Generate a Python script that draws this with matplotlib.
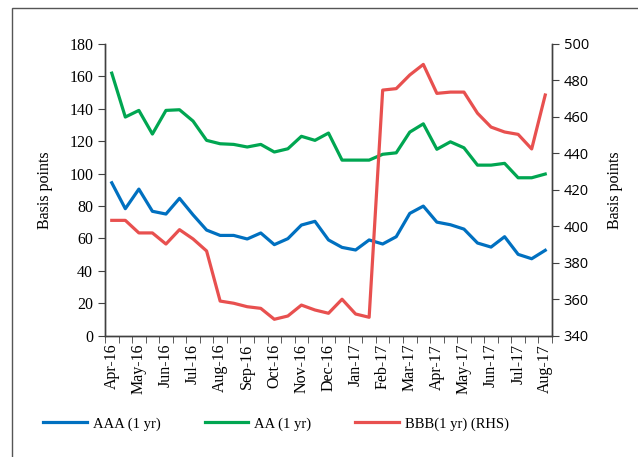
import matplotlib.pyplot as plt
import numpy as np
from matplotlib.patches import Rectangle
from matplotlib.ticker import FixedLocator, MultipleLocator

# half-monthly observations, Apr-16 .. Aug-17
month_labels = ['Apr-16', 'May-16', 'Jun-16', 'Jul-16', 'Aug-16', 'Sep-16',
                'Oct-16', 'Nov-16', 'Dec-16', 'Jan-17', 'Feb-17', 'Mar-17',
                'Apr-17', 'May-17', 'Jun-17', 'Jul-17', 'Aug-17']

aaa = [94.3, 78.3, 90.4, 76.7, 75.0, 84.7, 74.5, 65.1, 61.8, 61.8, 59.6,
       63.3, 56.1, 59.8, 68.2, 70.5, 59.0, 54.4, 52.8, 59.0, 56.5, 61.0,
       75.4, 79.9, 70.0, 68.4, 65.7, 57.1, 54.6, 61.0, 50.1, 47.4, 52.6]
aa = [162.0, 134.9, 139.0, 124.4, 139.0, 139.4, 132.4, 120.5, 118.4, 118.0,
      116.4, 118.0, 113.3, 115.3, 123.0, 120.5, 125.0, 108.3, 108.3, 108.3,
      111.9, 112.8, 125.6, 130.7, 115.0, 119.6, 115.9, 105.2, 105.2, 106.3,
      97.4, 97.4, 99.7]
bbb = [403.2, 403.2, 396.3, 396.3, 390.2, 398.1, 393.0, 386.4, 358.9, 357.7,
       355.8, 354.9, 348.9, 350.7, 356.7, 354.0, 352.2, 359.9, 351.8, 350.0,
       474.7, 475.5, 483.0, 488.8, 472.9, 473.6, 473.6, 462.0, 454.4, 451.7,
       450.4, 442.4, 472.0]

c_aaa = '#0070C0'
c_aa = '#00A651'
c_bbb = '#E8504F'
spine_c = '#404040'
serif = ['Liberation Serif', 'DejaVu Serif']

plt.rcParams['font.family'] = serif

fig = plt.figure(figsize=(6.38, 4.57), dpi=100)
ax = fig.add_axes([105/638, 1-335.5/457, (552-105)/638, (335.5-44)/457])
ax2 = ax.twinx()

x = np.arange(len(aaa))
l1, = ax.plot(x, aaa, color=c_aaa, lw=2.3, label='AAA (1 yr)')
l2, = ax.plot(x, aa, color=c_aa, lw=2.3, label='AA (1 yr)')
l3, = ax2.plot(x, bbb, color=c_bbb, lw=2.3, label='BBB(1 yr) (RHS)')

ax.set_xlim(-0.5, len(aaa) - 0.5)
ax.set_ylim(0, 180)
ax.yaxis.set_major_locator(MultipleLocator(20))
ax2.set_ylim(340, 500)
ax2.yaxis.set_major_locator(MultipleLocator(20))

ax.set_xticks(x[::2])
ax.set_xticklabels(month_labels, rotation=90, fontsize=11.5)
ax.xaxis.set_minor_locator(FixedLocator(np.arange(-0.5, len(aaa), 1)))
ax.tick_params(axis='x', which='major', length=0, pad=6)
ax.tick_params(axis='x', which='minor', length=5, color=spine_c)
ax.tick_params(axis='y', labelsize=11.5, length=5, color=spine_c)
ax2.tick_params(axis='y', labelsize=11, length=5, color=spine_c)
for lab in ax2.get_yticklabels():
    lab.set_family(['Open Sans', 'DejaVu Sans'])
    lab.set_fontsize(10.5)

ax.set_ylabel('Basis points', fontsize=11.5, labelpad=12)
ax2.set_ylabel('Basis points', fontsize=11.5, labelpad=13)

for a in (ax, ax2):
    a.spines['top'].set_visible(False)
    for s in ('left', 'right', 'bottom'):
        a.spines[s].set_color(spine_c)
        a.spines[s].set_linewidth(1.0)

fig.legend(handles=[l1, l2, l3], loc='center', bbox_to_anchor=(276/638, 1-424/457),
           ncol=3, frameon=False, fontsize=10.5, handlelength=3.0,
           columnspacing=3.0, handletextpad=0.4)

fig.add_artist(Rectangle((12/638, -0.05), 1.1, 1-8/457+0.05, transform=fig.transFigure,
                         fill=False, edgecolor='#555555', lw=1.0))

fig.savefig('out.png', dpi=100)
